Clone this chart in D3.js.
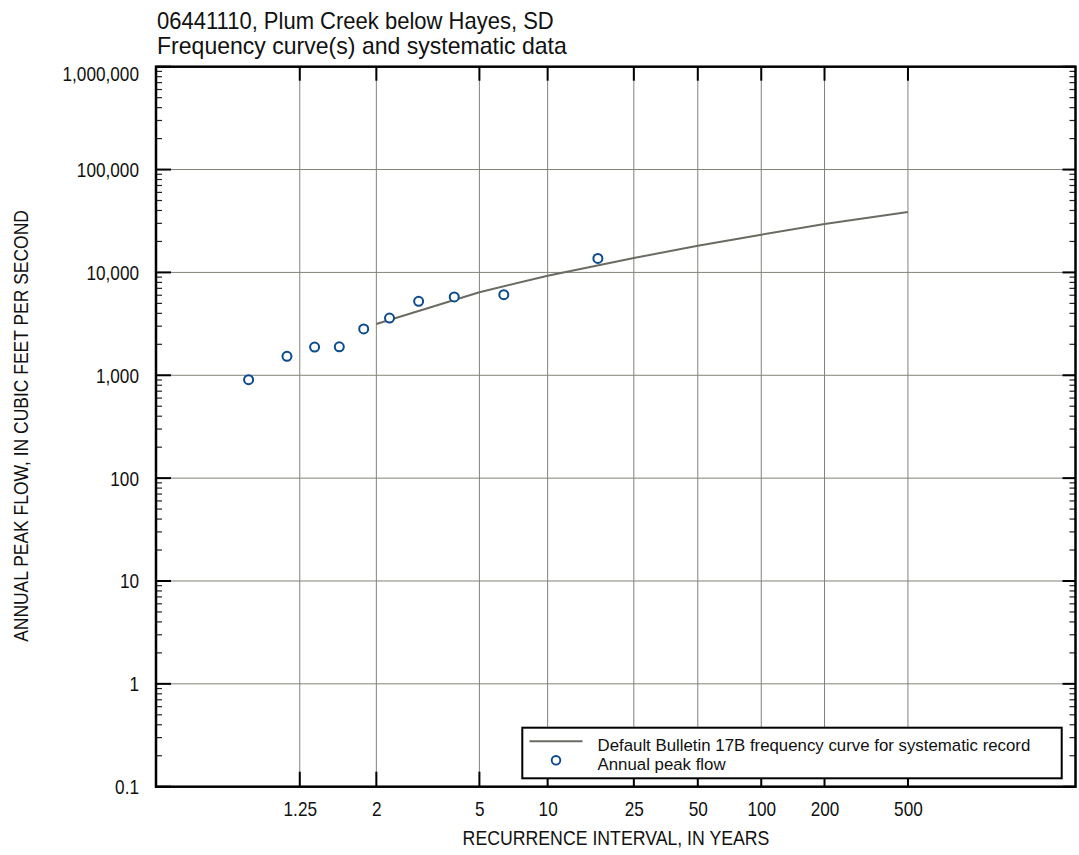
<!DOCTYPE html>
<html><head><meta charset="utf-8">
<script src="https://cdn.jsdelivr.net/npm/d3@7"></script>
<style>
body{margin:0;background:#fff}
svg{display:block}
text{font-family:"Liberation Sans Narrow","Arial Narrow","Liberation Sans",Arial,sans-serif;fill:#111}
</style>
</head><body>
<svg id="c" width="1079" height="855"></svg>
<script>
// ---- data ----
const titleLines = ["06441110, Plum Creek below Hayes, SD", "Frequency curve(s) and systematic data"];
const xTitle = "RECURRENCE INTERVAL, IN YEARS";
const yTitle = "ANNUAL PEAK FLOW, IN CUBIC FEET PER SECOND";
const xTickValues = [1.25, 2, 5, 10, 25, 50, 100, 200, 500];
const xTickLabels = ["1.25", "2", "5", "10", "25", "50", "100", "200", "500"];
const yTickValues = [0.1, 1, 10, 100, 1000, 10000, 100000, 1000000];
const yTickLabels = ["0.1", "1", "10", "100", "1,000", "10,000", "100,000", "1,000,000"];
const xDomainExceedance = [0.9996, 0.000317];
const yDomain = [0.1, 1000000];
// frequency curve (recurrence interval, years -> peak flow, cfs)
const curveT = [2, 5, 10, 25, 50, 100, 200, 500];
const curveQ = [3150, 6420, 9290, 13800, 18180, 23260, 29540, 38660];
// annual peaks (plotting-position recurrence interval, peak flow)
const peakT = [17.0, 6.375, 3.923, 2.833, 2.217, 1.821, 1.545, 1.342, 1.186, 1.063];
const peakQ = [13680, 6070, 5770, 5230, 3600, 2820, 1890, 1880, 1530, 905];
const legendLabels = ["Default Bulletin 17B frequency curve for systematic record", "Annual peak flow"];

// ---- layout ----
const M = {left: 156, right: 1075.5, top: 66.7, bottom: 786.7};
const gridColor = "#82827a", curveColor = "#6b6b63", peakColor = "#0b4a8e";

const gP = p => -Math.log(-Math.log(1 - p));   // Gumbel reduced variate from exceedance prob
const gT = T => gP(1 / T);

const x = d3.scaleLinear().domain(xDomainExceedance.map(gP)).range([M.left, M.right]);
const y = d3.scaleLog().domain(yDomain).range([M.bottom, M.top]);

const svg = d3.select("#c");

// condense text horizontally (emulates a condensed face)
function squeeze(sel, s) {
  sel.each(function () {
    const t = d3.select(this);
    const tx = +t.attr("x") || 0, ty = +t.attr("y") || 0;
    const pre = t.attr("transform") || "";
    t.attr("x", 0).attr("y", 0).attr("transform", `${pre} translate(${tx},${ty}) scale(${s},1)`);
  });
}
function fitW(sel, target) {
  sel.each(function () {
    const w = this.getComputedTextLength();
    squeeze(d3.select(this), target / w);
  });
}

// title
titleLines.forEach((t, i) => {
  const tx = svg.append("text").attr("x", M.left + 1).attr("y", 29 + i * 25)
    .attr("font-size", 23).text(t);
  fitW(tx, i === 0 ? 397 : 410);
});

// grid
const grid = svg.append("g");
grid.selectAll(".gx").data(xTickValues).join("line")
  .attr("x1", d => x(gT(d))).attr("x2", d => x(gT(d)))
  .attr("y1", M.top).attr("y2", M.bottom)
  .attr("stroke", gridColor).attr("stroke-width", 1);
grid.selectAll(".gy").data(yTickValues.slice(1, -1)).join("line")
  .attr("x1", M.left).attr("x2", M.right)
  .attr("y1", d => y(d)).attr("y2", d => y(d))
  .attr("stroke", gridColor).attr("stroke-width", 1);

// minor y ticks
const minor = [];
yTickValues.slice(0, -1).forEach(d => { for (let k = 2; k <= 9; k++) minor.push(d * k); });
const tk = svg.append("g");
tk.selectAll(".ml").data(minor).join("line")
  .attr("x1", M.left).attr("x2", M.left + 6).attr("y1", d => y(d)).attr("y2", d => y(d))
  .attr("stroke", "#222").attr("stroke-width", 1.2);
tk.selectAll(".mr").data(minor).join("line")
  .attr("x1", M.right).attr("x2", M.right - 6).attr("y1", d => y(d)).attr("y2", d => y(d))
  .attr("stroke", "#222").attr("stroke-width", 1.2);
tk.selectAll(".Ml").data(yTickValues).join("line")
  .attr("x1", M.left).attr("x2", M.left + 15).attr("y1", d => y(d)).attr("y2", d => y(d))
  .attr("stroke", "#000").attr("stroke-width", 2);
tk.selectAll(".Mr").data(yTickValues).join("line")
  .attr("x1", M.right).attr("x2", M.right - 13).attr("y1", d => y(d)).attr("y2", d => y(d))
  .attr("stroke", "#000").attr("stroke-width", 2);
tk.selectAll(".xb").data(xTickValues).join("line")
  .attr("x1", d => x(gT(d))).attr("x2", d => x(gT(d))).attr("y1", M.bottom).attr("y2", M.bottom - 15)
  .attr("stroke", "#000").attr("stroke-width", 2);
tk.selectAll(".xt").data(xTickValues).join("line")
  .attr("x1", d => x(gT(d))).attr("x2", d => x(gT(d))).attr("y1", M.top).attr("y2", M.top + 14)
  .attr("stroke", "#000").attr("stroke-width", 2);

// frequency curve
const line = d3.line().x(d => x(gT(d[0]))).y(d => y(d[1]));
svg.append("path").datum(curveT.map((t, i) => [t, curveQ[i]]))
  .attr("d", line).attr("fill", "none").attr("stroke", curveColor).attr("stroke-width", 2);

// peaks
svg.append("g").selectAll("circle").data(peakT.map((t, i) => [t, peakQ[i]])).join("circle")
  .attr("cx", d => x(gT(d[0]))).attr("cy", d => y(d[1])).attr("r", 4.5)
  .attr("fill", "#fff").attr("stroke", peakColor).attr("stroke-width", 2);

// frame
svg.append("rect").attr("x", M.left).attr("y", M.top)
  .attr("width", M.right - M.left).attr("height", M.bottom - M.top)
  .attr("fill", "none").attr("stroke", "#000").attr("stroke-width", 2.5);

// axes labels via d3 axes
const yAx = svg.append("g").attr("transform", `translate(${M.left},0)`)
  .call(d3.axisLeft(y).tickValues(yTickValues).tickFormat((d, i) => yTickLabels[i]).tickSize(0).tickPadding(17));
yAx.select(".domain").remove();
yAx.attr("font-family", null).attr("font-size", null);
yAx.selectAll("text").attr("font-size", 20).attr("fill", "#111")
  .attr("dy", (d, i) => i === yTickValues.length - 1 ? "0.7em" : "0.35em");
squeeze(yAx.selectAll("text"), 0.86);

const xAx = svg.append("g").attr("transform", `translate(0,${M.bottom})`)
  .call(d3.axisBottom(x).tickValues(xTickValues.map(gT)).tickFormat((d, i) => xTickLabels[i]).tickSize(0).tickPadding(15));
xAx.select(".domain").remove();
xAx.attr("font-family", null).attr("font-size", null);
xAx.selectAll("text").attr("font-size", 20).attr("fill", "#111");
squeeze(xAx.selectAll("text"), 0.86);

// axis titles
const xt = svg.append("text").attr("x", 616).attr("y", 845).attr("text-anchor", "middle")
  .attr("font-size", 20).text(xTitle);
fitW(xt, 307);
const yt = svg.append("text").attr("x", 0).attr("y", 0).attr("transform", "translate(28,426) rotate(-90)")
  .attr("text-anchor", "middle").attr("font-size", 20).text(yTitle);
fitW(yt, 432);

// legend
const lg = svg.append("g");
lg.append("rect").attr("x", 522.3).attr("y", 727.7).attr("width", 539.4).attr("height", 50.6)
  .attr("fill", "#fff").attr("stroke", "#000").attr("stroke-width", 2);
lg.append("line").attr("x1", 529.5).attr("x2", 582.5).attr("y1", 741.3).attr("y2", 741.3)
  .attr("stroke", curveColor).attr("stroke-width", 2);
lg.append("circle").attr("cx", 556).attr("cy", 760.3).attr("r", 4.3)
  .attr("fill", "#fff").attr("stroke", peakColor).attr("stroke-width", 1.9);
const l1 = lg.append("text").attr("x", 597.5).attr("y", 751).attr("font-size", 16.5).text(legendLabels[0]);
const w1 = l1.node().getComputedTextLength();
const sL = 433 / w1;
squeeze(l1, sL);
const l2 = lg.append("text").attr("x", 597.5).attr("y", 770).attr("font-size", 16.5).text(legendLabels[1]);
squeeze(l2, sL);
</script>
</body></html>
